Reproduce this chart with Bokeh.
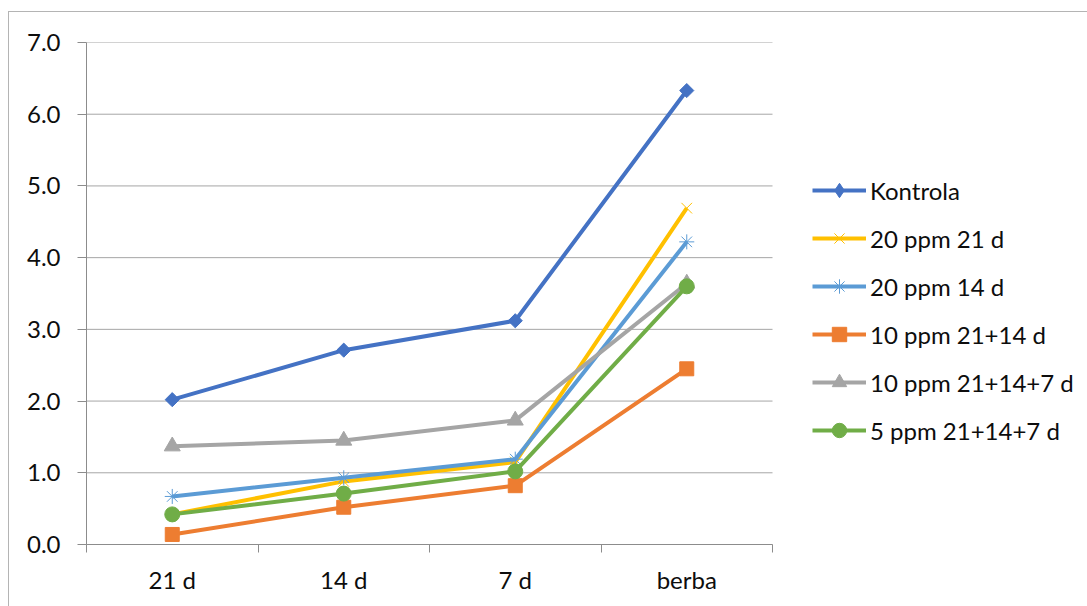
from bokeh.plotting import figure
from bokeh.models import Range1d, FixedTicker, NumeralTickFormatter, Legend, LegendItem
from bokeh.embed import file_html
from bokeh.resources import INLINE
import math

# Sampling points and measured values per treatment
categories = ["21 d", "14 d", "7 d", "berba"]
kontrola = [2.02, 2.71, 3.12, 6.33]
ppm20_21d = [0.42, 0.88, 1.15, 4.69]
ppm20_14d = [0.67, 0.93, 1.19, 4.22]
ppm10_21_14 = [0.14, 0.52, 0.82, 2.45]
ppm10_21_14_7 = [1.37, 1.45, 1.73, 3.64]
ppm5_21_14_7 = [0.42, 0.71, 1.02, 3.60]
y_ticks = [0, 1, 2, 3, 4, 5, 6, 7]

FONT = "Lato"
FONT_SIZE = "24px"
TEXT_COLOR = "#0d0d0d"
AXIS_COLOR = "#8c8c8c"
GRID_COLOR = "#a6a6a6"

# The frame runs to the right canvas edge so the legend can sit inside it;
# the category band occupies the left 686 px of the 1001 px frame.
LEFT, TOP, BOTTOM = 86, 42, 62
FRAME_W = 1087 - LEFT
BAND_W = 686
n = len(categories)
x_end = n * FRAME_W / BAND_W

xs = [i + 0.5 for i in range(n)]

p = figure(width=1087, height=606, output_backend="svg", toolbar_location=None,
           x_range=Range1d(0, x_end), y_range=Range1d(0, max(y_ticks)),
           min_border_left=LEFT, min_border_right=0,
           min_border_top=TOP, min_border_bottom=BOTTOM)
p.outline_line_color = None
p.background_fill_color = "white"
# transparent border area so the page-level frame line below shows through
p.border_fill_alpha = 0
p.styles = {
    "background": ("linear-gradient(#b4b4b4, #b4b4b4) 8px 11px / 1px 100% no-repeat, "
                   "linear-gradient(#b4b4b4, #b4b4b4) 8px 11px / 100% 1px no-repeat, "
                   "white"),
}

# y axis
p.yaxis.ticker = FixedTicker(ticks=y_ticks, minor_ticks=[])
p.yaxis.formatter = NumeralTickFormatter(format="0.0")
p.yaxis.axis_line_color = AXIS_COLOR
p.yaxis.major_tick_line_color = AXIS_COLOR
p.yaxis.major_tick_out = 9
p.yaxis.major_tick_in = 0
p.yaxis.minor_tick_line_color = None
p.yaxis.major_label_standoff = 17
p.yaxis.major_label_text_font = FONT
p.yaxis.major_label_text_font_size = FONT_SIZE
p.yaxis.major_label_text_color = TEXT_COLOR

# x axis: labels at category centres, tick marks on category boundaries
p.xaxis.bounds = (0, n)
p.xaxis.ticker = FixedTicker(ticks=xs, minor_ticks=list(range(n + 1)))
p.xaxis.major_label_overrides = {x: c for x, c in zip(xs, categories)}
p.xaxis.axis_line_color = AXIS_COLOR
p.xaxis.major_tick_line_color = None
p.xaxis.major_tick_out = 0
p.xaxis.major_tick_in = 0
p.xaxis.minor_tick_line_color = AXIS_COLOR
p.xaxis.minor_tick_out = 8
p.xaxis.minor_tick_in = 0
p.xaxis.major_label_standoff = 12
p.xaxis.major_label_text_font = FONT
p.xaxis.major_label_text_font_size = FONT_SIZE
p.xaxis.major_label_text_color = TEXT_COLOR

# horizontal gridlines across the category band only
p.xgrid.grid_line_color = None
p.ygrid.grid_line_color = None
p.segment(x0=[0] * len(y_ticks), x1=[n] * len(y_ticks), y0=y_ticks, y1=y_ticks,
          line_color=GRID_COLOR, line_width=1, level="underlay")

# (name, values, colour, plot marker, legend marker)
series = [
    ("Kontrola", kontrola, "#4472C4",
     dict(marker="square", size=10, angle=math.pi / 4), dict(marker="diamond")),
    ("20 ppm 21 d", ppm20_21d, "#FFC000",
     dict(marker="x", size=15, line_width=1), None),
    ("20 ppm 14 d", ppm20_14d, "#5B9BD5",
     dict(marker="asterisk", size=15, line_width=1), None),
    ("10 ppm 21+14 d", ppm10_21_14, "#ED7D31",
     dict(marker="square", size=14), None),
    ("10 ppm 21+14+7 d", ppm10_21_14_7, "#A5A5A5",
     dict(marker="triangle", size=16), None),
    ("5 ppm 21+14+7 d", ppm5_21_14_7, "#70AD47",
     dict(marker="circle", size=15), None),
]

items = []
for name, vals, color, mk, legend_mk in series:
    ln = p.line(xs, vals, line_color=color, line_width=4)
    sc = p.scatter(xs, vals, fill_color=color, line_color=color, **mk)
    key = sc
    if legend_mk is not None:
        # legend swatch drawn as an upright diamond
        key = p.scatter(xs, vals, fill_color=color, line_color=color,
                        visible=False, **legend_mk)
    items.append(LegendItem(label=name, renderers=[ln, key]))

legend = Legend(items=items, location=(726, 96), orientation="vertical",
                glyph_width=54, glyph_height=36, label_height=20,
                label_standoff=4, spacing=12, padding=0, margin=0,
                label_text_font=FONT, label_text_font_size=FONT_SIZE,
                label_text_color=TEXT_COLOR, border_line_color=None,
                background_fill_alpha=0)
p.add_layout(legend, "center")

open("out.html", "w").write(file_html(p, INLINE))
